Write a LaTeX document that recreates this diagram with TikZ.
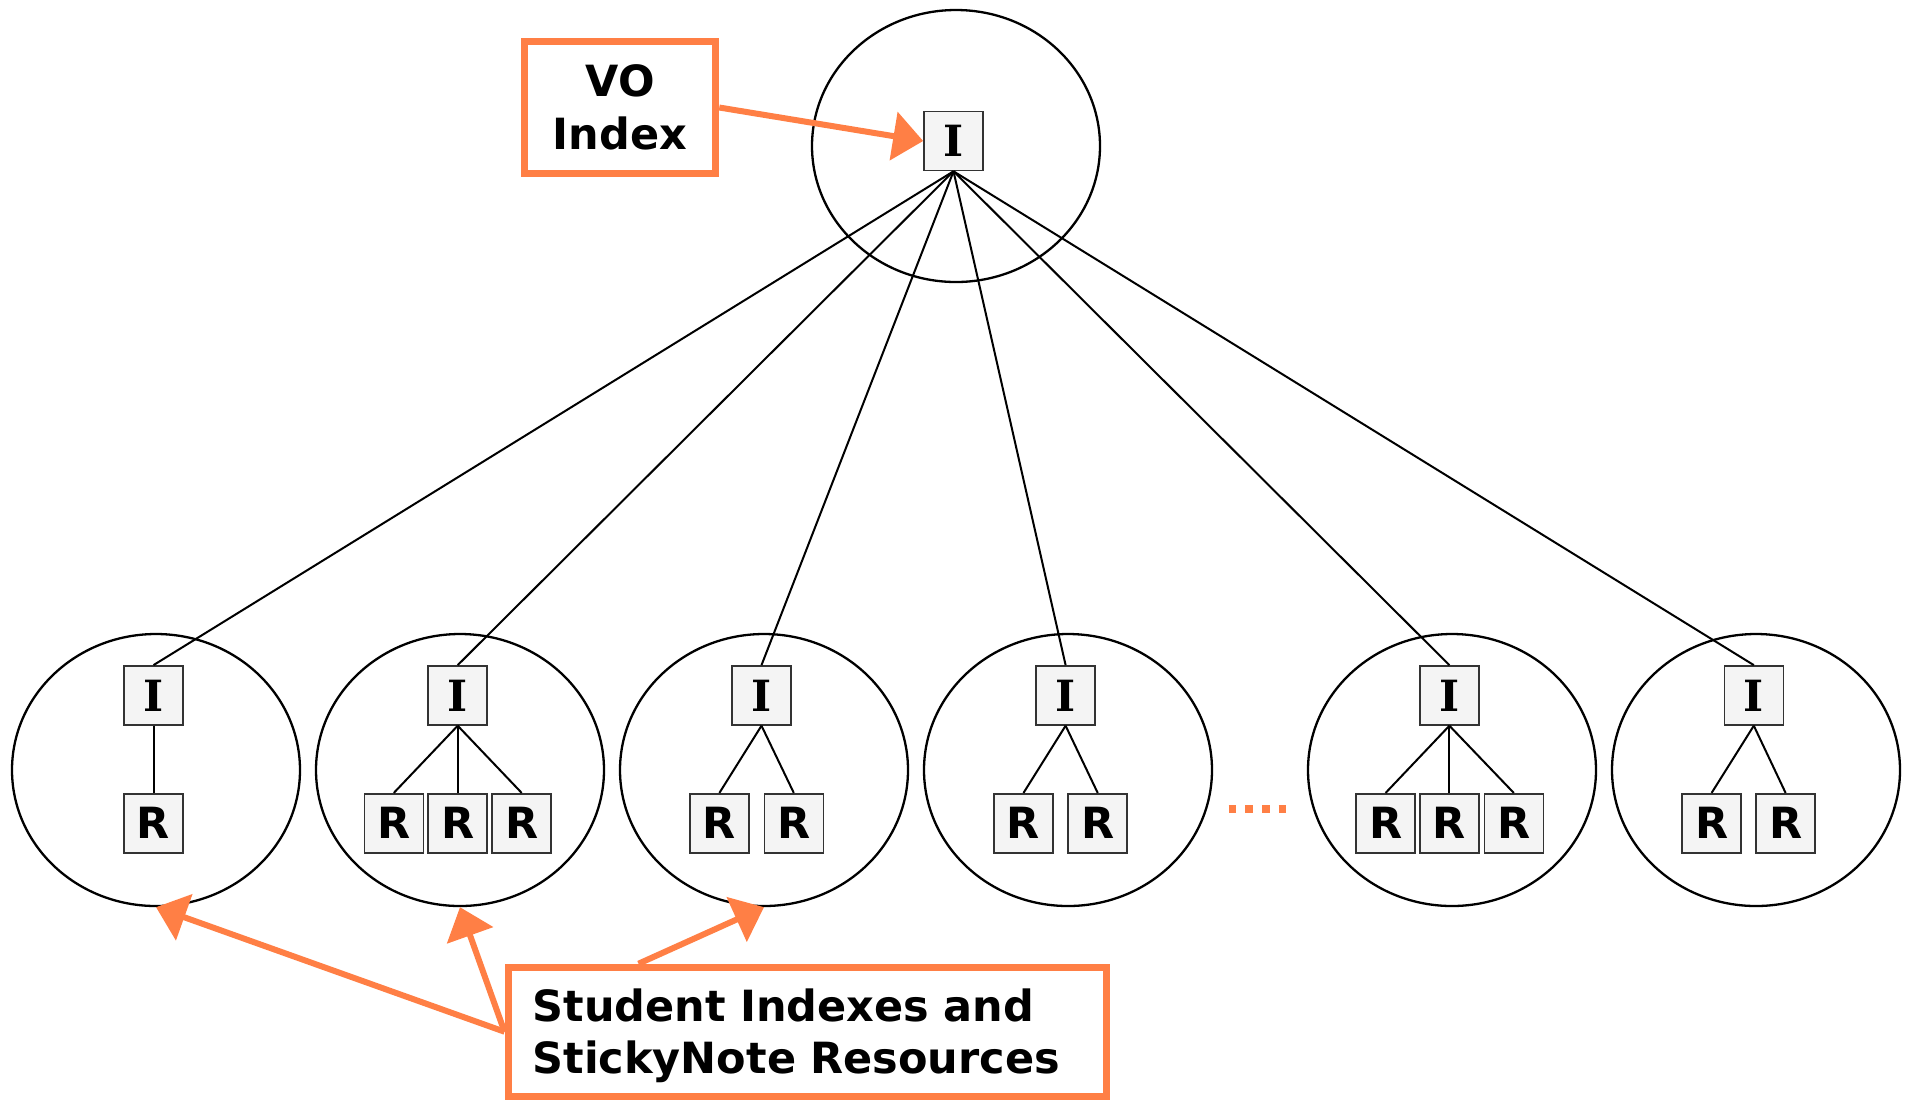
\documentclass[tikz,border=0pt]{standalone}
\usepackage{fontspec}
\setmainfont{DejaVu Sans}
\newfontfamily\boxserif{DejaVu Serif}
\usetikzlibrary{shapes.geometric,arrows.meta}
\definecolor{orng}{HTML}{FF7F45}
\definecolor{boxfill}{HTML}{F4F4F4}
\definecolor{boxline}{HTML}{333333}
\begin{document}
\begin{tikzpicture}[x=0.5pt,y=-0.5pt,
  grp/.style={ellipse, draw, line width=1.15pt, minimum width=144pt, minimum height=136pt, inner sep=0pt},
  ibox/.style={draw=boxline, fill=boxfill, line width=0.8pt, minimum width=29.5pt, minimum height=29.5pt, inner sep=0pt, font=\boxserif\bfseries\fontsize{21.5pt}{24pt}\selectfont},
  rbox/.style={ibox, font=\bfseries\fontsize{21.5pt}{24pt}\selectfont},
  link/.style={line width=1pt},
  note/.style={draw=orng, line width=3.5pt, font=\bfseries\fontsize{21.5pt}{26.3pt}\selectfont},
  pointer/.style={draw=orng, line width=3pt, -{Triangle[length=15pt,width=24pt]}}
]
\useasboundingbox (0,0) rectangle (1907,1100);

% top group
\node[grp] (e0) at (956,146) {};
\node[ibox] (top) at (953.5,141) {I};

% bottom groups
\node[grp] (e1) at (156,770) {};
\node[grp] (e2) at (460,770) {};
\node[grp] (e3) at (764,770) {};
\node[grp] (e4) at (1068,770) {};
\node[grp] (e5) at (1452,770) {};
\node[grp] (e6) at (1756,770) {};

\node[ibox] (i1) at (153.5,695.4) {I};
\node[ibox] (i2) at (457.7,695.4) {I};
\node[ibox] (i3) at (761.5,695.4) {I};
\node[ibox] (i4) at (1065.6,695.4) {I};
\node[ibox] (i5) at (1449.4,695.4) {I};
\node[ibox] (i6) at (1753.8,695.4) {I};

\node[rbox] (r11) at (153.5,823.2) {R};

\node[rbox] (r21) at (393.8,823.2) {R};
\node[rbox] (r22) at (457.7,823.2) {R};
\node[rbox] (r23) at (521.7,823.2) {R};

\node[rbox] (r31) at (719.4,823.2) {R};
\node[rbox] (r32) at (793.8,823.2) {R};

\node[rbox] (r41) at (1023.5,823.2) {R};
\node[rbox] (r42) at (1097.7,823.2) {R};

\node[rbox] (r51) at (1385.6,823.2) {R};
\node[rbox] (r52) at (1449.4,823.2) {R};
\node[rbox] (r53) at (1513.8,823.2) {R};

\node[rbox] (r61) at (1711.6,823.2) {R};
\node[rbox] (r62) at (1785.6,823.2) {R};

% links from top
\foreach \n in {i1,i2,i3,i4,i5,i6}
  \draw[link] (top.south) -- (\n.north);

% inner links
\draw[link] (i1.south) -- (r11.north);
\foreach \n in {r21,r22,r23} \draw[link] (i2.south) -- (\n.north);
\foreach \n in {r31,r32} \draw[link] (i3.south) -- (\n.north);
\foreach \n in {r41,r42} \draw[link] (i4.south) -- (\n.north);
\foreach \n in {r51,r52,r53} \draw[link] (i5.south) -- (\n.north);
\foreach \n in {r61,r62} \draw[link] (i6.south) -- (\n.north);

% ellipsis dots
\coordinate (d1) at (1228.6,809);
\coordinate (d2) at (1286.3,809);
\draw[orng, line width=4.1pt, dash pattern=on 3.8pt off 4.55pt] (d1) -- (d2);

% callouts
\node[note, align=center, minimum width=95.75pt, minimum height=66pt, inner sep=0pt] (vo) at (620,107.5) {VO\\Index};
\node[note, minimum width=299pt, minimum height=64.5pt, inner sep=0pt,
  label={[font=\bfseries\fontsize{21.5pt}{26.3pt}\selectfont, align=left, text width=274.4pt, inner sep=0pt, yshift=-2pt]center:Student Indexes and\\StickyNote Resources}] (stud) at (807,1031.7) {};

\draw[pointer] (vo.east) -- (top.west);
\draw[pointer] (stud.west) -- (e1.south);
\draw[pointer] (stud.west) -- (e2.south);
\draw[pointer] ([xshift=67pt]stud.north west) -- (e3.south);
\end{tikzpicture}
\end{document}
